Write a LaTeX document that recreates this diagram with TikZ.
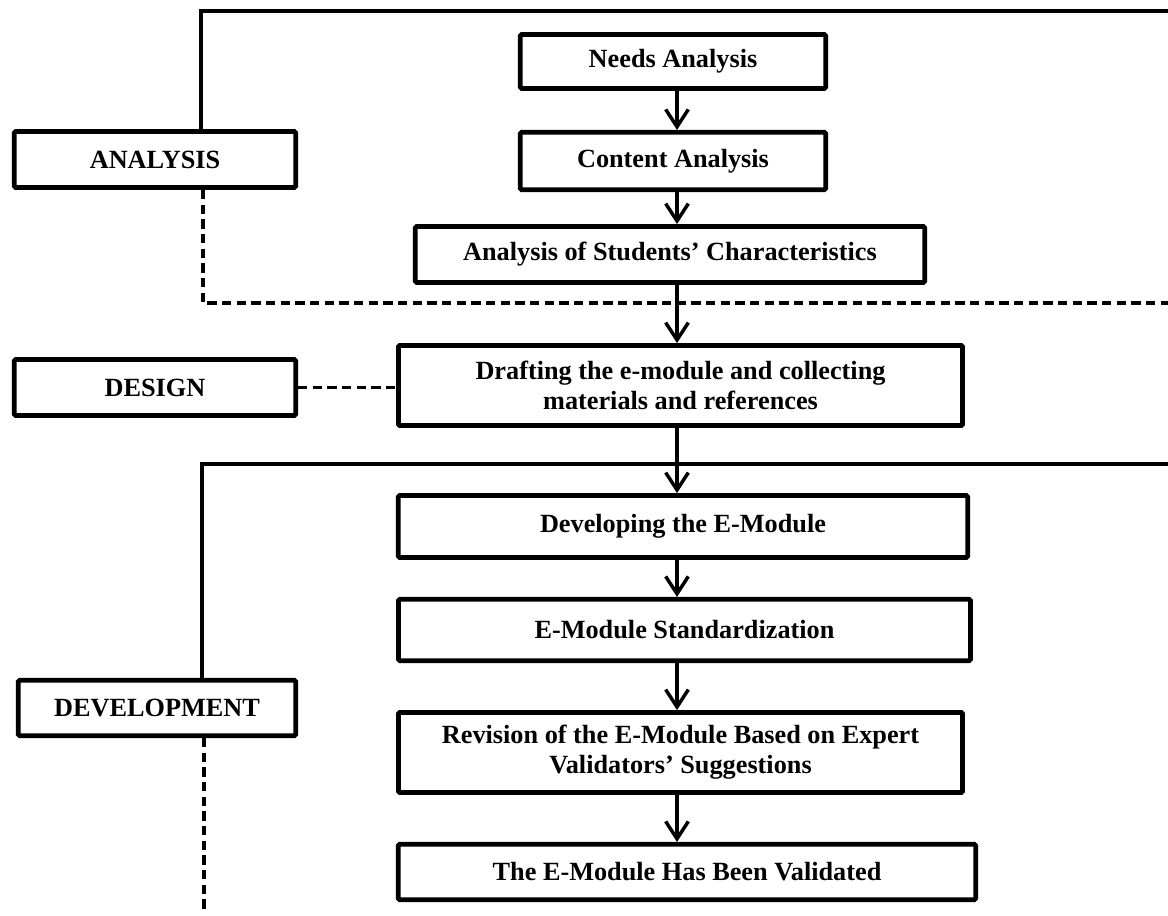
\documentclass[tikz,border=0pt]{standalone}
\usepackage{fontspec}
\setmainfont{Liberation Serif}
\usetikzlibrary{arrows.meta}

\begin{document}
\begin{tikzpicture}[x=0.75pt,y=-0.75pt,
  box/.style={draw, line width=3.6pt, rounded corners=1pt, inner sep=0pt, align=center,
    font=\fontsize{19.7}{22.5}\selectfont\bfseries},
  arr/.style={line width=2.6pt, -{Straight Barb[length=13pt,width=17pt,line width=2.6pt]}},
  frameline/.style={line width=2.6pt},
  dashline/.style={line width=2.8pt, dash pattern=on 7pt off 4pt}]
  \useasboundingbox (0,0) rectangle (1168,916);

  % phase boxes
  \node[box, minimum width=211pt, minimum height=42pt] (ana) at (155,159.5) {ANALYSIS};
  \node[box, minimum width=211pt, minimum height=42pt] (des) at (155,387.5) {DESIGN};
  \node[box, minimum width=208pt, minimum height=41.5pt] (dev) at (157,708) {DEVELOPMENT};

  % steps
  \node[box, minimum width=229pt, minimum height=40.5pt] (needs) at (673,61.5) {Needs Analysis};
  \node[box, minimum width=229pt, minimum height=43pt] (content) at (673,161) {Content Analysis};
  \node[box, minimum width=382pt, minimum height=42pt] (stud) at (670,254.5) {Analysis of Students’ Characteristics};
  \node[box, minimum width=423pt, minimum height=60pt] (draft) at (680.5,385.5) {Drafting the e-module and collecting\\materials and references};
  \node[box, minimum width=427pt, minimum height=46.5pt] (devmod) at (683,526.5) {Developing the E-Module};
  \node[box, minimum width=429pt, minimum height=46pt] (std) at (684.5,630) {E-Module Standardization};
  \node[box, minimum width=423pt, minimum height=60pt] (rev) at (680.5,752.5) {Revision of the E-Module Based on Expert\\Validators’ Suggestions};
  \node[box, minimum width=433pt, minimum height=41.5pt] (val) at (687,872) {The E-Module Has Been Validated};

  % brackets
  \coordinate (atop) at (201,11);
  \coordinate (aend) at (1168,11);
  \coordinate (abot) at (203,303);
  \coordinate (abend) at (1168,303);
  \coordinate (dtop) at (202,464);
  \coordinate (dend) at (1168,464);
  \coordinate (dbot) at (204,912);
  \draw[frameline] (ana.north -| atop) -- (atop) -- (aend);
  \draw[dashline] (ana.south -| abot) -- (abot) -- (abend);
  \draw[dashline] (des.east) -- (des.east -| draft.west);
  \draw[frameline] (dev.north -| dtop) -- (dtop) -- (dend);
  \draw[dashline] (dev.south -| dbot) -- (dbot);

  % arrows
  \coordinate (spine) at (677,0);
  \draw[arr] (needs.south -| spine) -- (content.north -| spine);
  \draw[arr] (content.south -| spine) -- (stud.north -| spine);
  \draw[arr] (stud.south -| spine) -- (draft.north -| spine);
  \draw[arr] (draft.south -| spine) -- (devmod.north -| spine);
  \draw[arr] (devmod.south -| spine) -- (std.north -| spine);
  \draw[arr] (std.south -| spine) -- (rev.north -| spine);
  \draw[arr] (rev.south -| spine) -- (val.north -| spine);

\end{tikzpicture}
\end{document}
